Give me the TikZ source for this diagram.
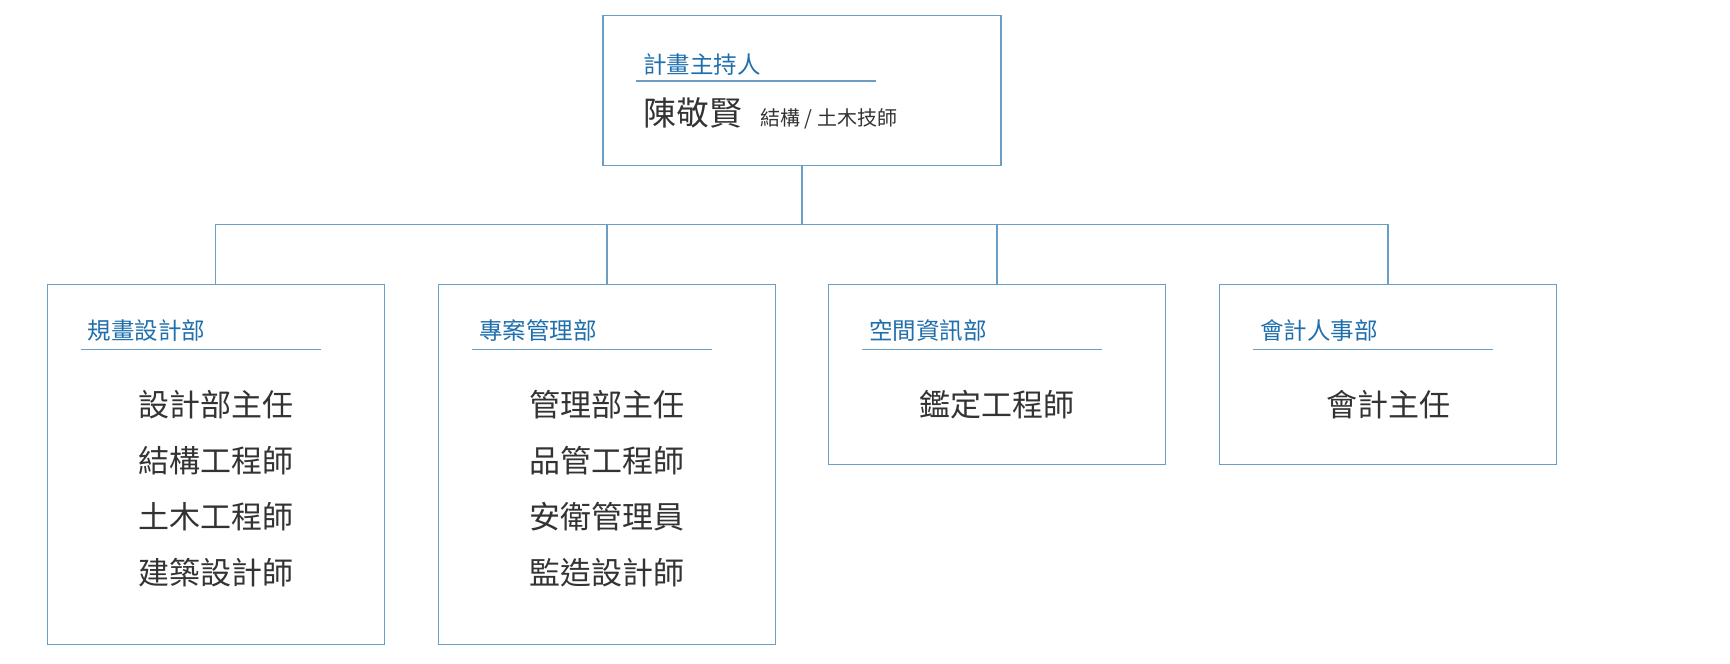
\documentclass[tikz,border=0pt]{standalone}
\usepackage{fontspec}
\setmainfont{Noto Sans CJK TC}
\definecolor{lineblue}{HTML}{6A9EC4}
\definecolor{titleblue}{HTML}{1F6FAD}
\definecolor{txtgray}{HTML}{333333}
\tikzset{
  box/.style={draw=lineblue, line width=1.3pt, rectangle, inner sep=0pt, minimum width=337pt},
  conn/.style={draw=lineblue, line width=1.3pt},
  uline/.style={draw=lineblue, line width=1.2pt},
  dtitle/.style={anchor=base west, inner sep=0pt, text=titleblue, font=\fontsize{23.5}{28}\selectfont},
  item/.style={anchor=base, inner sep=0pt, text=txtgray, font=\fontsize{31}{37}\selectfont},
}
\begin{document}
\begin{tikzpicture}[x=1pt,y=-1pt]
\useasboundingbox (0,0) rectangle (1730,664);
% top box
\node[box, minimum width=398pt, minimum height=150pt] (top) at (802,90.3) {};
\node[dtitle] (toptitle) at (643,73) {計畫主持人};
\draw[uline] (636,81) -- (876,81);
\node[anchor=base west, inner sep=0pt, text=txtgray, font=\fontsize{33}{40}\selectfont] (name) at (643,125) {陳敬賢};
\node[anchor=base west, inner sep=0pt, text=txtgray, font=\fontsize{20}{24}\selectfont] (cred) at (760,125) {結構 / 土木技師};
% department boxes
\node[box, minimum height=360pt] (d1) at (215.7,464.3) {};
\node[box, minimum height=360pt] (d2) at (607,464.3) {};
\node[box, minimum height=180pt] (d3) at (997,374.3) {};
\node[box, minimum height=180pt] (d4) at (1388,374.3) {};
% connectors
\coordinate (bus) at (801,224.3);
\draw[conn] (top.south) -- (top.south |- bus);
\draw[conn] (d1.north) -- (d1.north |- bus) -- (d4.north |- bus) -- (d4.north);
\draw[conn] (d2.north) -- (d2.north |- bus);
\draw[conn] (d3.north) -- (d3.north |- bus);
% titles and underlines
\foreach \b/\t in {d1/規畫設計部, d2/專案管理部, d3/空間資訊部, d4/會計人事部}{
  \node[dtitle] (\b-title) at ([xshift=41pt,yshift=-55.7pt]\b.north west) {\t};
  \draw[uline] ([xshift=34pt,yshift=-66pt]\b.north west) -- ([xshift=274pt,yshift=-66pt]\b.north west);
}
% items
\node[item] (d1a) at ([yshift=-132.7pt]d1.north) {設計部主任};
\node[item] (d1b) at ([yshift=-188.7pt]d1.north) {結構工程師};
\node[item] (d1c) at ([yshift=-244.7pt]d1.north) {土木工程師};
\node[item] (d1d) at ([yshift=-300.7pt]d1.north) {建築設計師};
\node[item] (d2a) at ([yshift=-132.7pt]d2.north) {管理部主任};
\node[item] (d2b) at ([yshift=-188.7pt]d2.north) {品管工程師};
\node[item] (d2c) at ([yshift=-244.7pt]d2.north) {安衛管理員};
\node[item] (d2d) at ([yshift=-300.7pt]d2.north) {監造設計師};
\node[item] (d3a) at ([yshift=-132.7pt]d3.north) {鑑定工程師};
\node[item] (d4a) at ([yshift=-132.7pt]d4.north) {會計主任};
\end{tikzpicture}
\end{document}
